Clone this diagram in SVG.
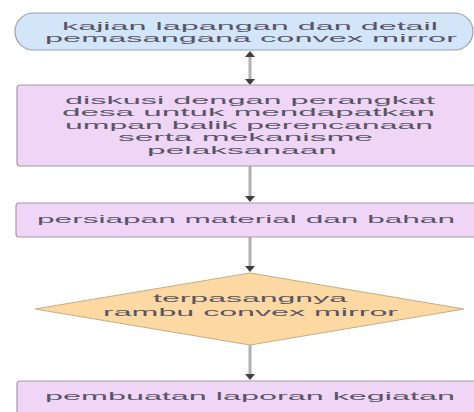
<svg xmlns="http://www.w3.org/2000/svg" width="474" height="412" viewBox="0 0 474 412">
<style>
  .t { font-family: "Liberation Sans", Arial, sans-serif; font-size: 11px; fill: #5a5566; text-anchor: start; }
  .box { fill: #efd6f6; stroke: #a89aa8; stroke-width: 1.2; }
  .pill { fill: #d3e5f8; stroke: #9aa0a8; stroke-width: 1.2; }
  .dia { fill: #fcd9a2; stroke: #c9ad84; stroke-width: 1.2; }
  .ln { stroke: #b0b0b0; stroke-width: 3; fill: none; }
  .ah { fill: #3f3f3f; }
</style>
<rect width="474" height="412" fill="#ffffff"/>
<g id="connectors">
  <line class="ln" x1="250" y1="55" x2="250" y2="81"/>
  <polygon class="ah" points="250,51 245,57 255,57"/>
  <polygon class="ah" points="250,85 245,79 255,79"/>
  <line class="ln" x1="250" y1="166" x2="250" y2="198"/>
  <polygon class="ah" points="250,202 245,196 255,196"/>
  <line class="ln" x1="250" y1="237" x2="250" y2="268"/>
  <polygon class="ah" points="250,272 245,266 255,266"/>
  <line class="ln" x1="250" y1="345" x2="250" y2="376"/>
  <polygon class="ah" points="250,380 245,374 255,374"/>
</g>
<g id="n1">
  <rect class="pill" x="15" y="13" width="458" height="37" rx="18.5" ry="18.5"/>
  <text class="t" x="62" y="29.5" textLength="376" lengthAdjust="spacingAndGlyphs">kajian lapangan dan detail</text>
  <text class="t" x="45" y="42" textLength="412" lengthAdjust="spacingAndGlyphs">pemasangana convex mirror</text>
</g>
<g id="n2">
  <rect class="box" x="17" y="85" width="470" height="81" rx="3"/>
  <text class="t" x="65" y="103.5" textLength="370" lengthAdjust="spacingAndGlyphs">diskusi dengan perangkat</text>
  <text class="t" x="62" y="116" textLength="373" lengthAdjust="spacingAndGlyphs">desa untuk mendapatkan</text>
  <text class="t" x="65" y="128.5" textLength="368" lengthAdjust="spacingAndGlyphs">umpan balik perencanaan</text>
  <text class="t" x="118" y="141" textLength="255" lengthAdjust="spacingAndGlyphs">serta mekanisme</text>
  <text class="t" x="147" y="153.5" textLength="190" lengthAdjust="spacingAndGlyphs">pelaksanaan</text>
</g>
<g id="n3">
  <rect class="box" x="16" y="203" width="470" height="34" rx="3"/>
  <text class="t" x="37" y="223" textLength="418" lengthAdjust="spacingAndGlyphs">persiapan material dan bahan</text>
</g>
<g id="n4">
  <polygon class="dia" points="250,273 464,309 250,345 35,309"/>
  <text class="t" x="153" y="302" textLength="194" lengthAdjust="spacingAndGlyphs">terpasangnya</text>
  <text class="t" x="103" y="315.5" textLength="295" lengthAdjust="spacingAndGlyphs">rambu convex mirror</text>
</g>
<g id="n5">
  <rect class="box" x="17" y="381" width="470" height="45" rx="3"/>
  <text class="t" x="45" y="400" textLength="410" lengthAdjust="spacingAndGlyphs">pembuatan laporan kegiatan</text>
</g>
</svg>
